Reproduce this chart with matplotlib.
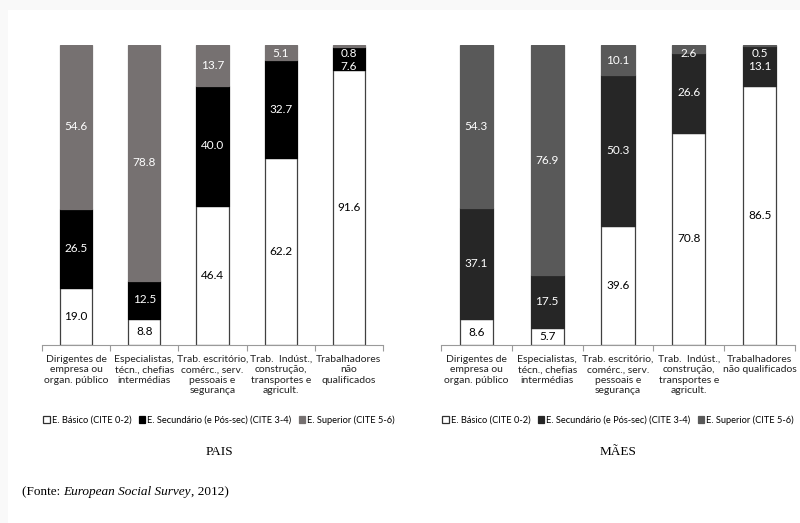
import matplotlib.pyplot as plt
from matplotlib.patches import Rectangle, Patch
import numpy as np

# categories
cats_pais = ['Dirigentes de\nempresa ou\norgan. público',
             'Especialistas,\ntécn., chefias\nintermédias',
             'Trab. escritório,\ncomérc., serv.\npessoais e\nsegurança',
             'Trab.  Indúst.,\nconstrução,\ntransportes e\nagricult.',
             'Trabalhadores\nnão\nqualificados']
cats_maes = cats_pais[:4] + ['Trabalhadores\nnão qualificados']

legend_labels = ['E. Básico (CITE 0-2)', 'E. Secundário (e Pós-sec) (CITE 3-4)', 'E. Superior (CITE 5-6)']

# PAIS
pais_basico = [19.0, 8.8, 46.4, 62.2, 91.6]
pais_secund = [26.5, 12.5, 40.0, 32.7, 7.6]
pais_super = [54.6, 78.8, 13.7, 5.1, 0.8]

# MÃES
maes_basico = [8.6, 5.7, 39.6, 70.8, 86.5]
maes_secund = [37.1, 17.5, 50.3, 26.6, 13.1]
maes_super = [54.3, 76.9, 10.1, 2.6, 0.5]

W, H = 800, 523
fig = plt.figure(figsize=(8, 5.23), dpi=100)
fig.patch.set_facecolor('#f9f9f9')
# page area (faint shadow on top/left)
fig.add_artist(Rectangle((8 / W, 0), 1, 1 - 10 / H, transform=fig.transFigure,
                         facecolor='white', edgecolor='none', zorder=0))

font_lbl = ['Lato', 'DejaVu Sans']


def panel(rect, cats, series, colors, text_colors, title, leg_x):
    ax = fig.add_axes(rect)
    ax.set_facecolor('none')
    x = np.arange(len(cats))
    bottom = np.zeros(len(cats))
    label_pos = []
    for vals, col in zip(series, colors):
        vals = np.array(vals)
        edge = '#404040' if col == 'white' else col
        ax.bar(x, vals, width=0.47, bottom=bottom, color=col, edgecolor=edge, linewidth=0.9, zorder=2)
        label_pos.append(bottom + vals / 2)
        bottom = bottom + vals
    # value labels, pushed down from the top so they don't collide
    for i in range(len(cats)):
        prev = 101.6
        for s in range(len(series) - 1, -1, -1):
            y = min(label_pos[s][i], prev - 4.3)
            prev = y
            ax.text(x[i], y, f'{series[s][i]:.1f}', ha='center', va='center',
                    fontsize=8.5, color=text_colors[s], family=font_lbl, zorder=3)
    ax.set_xlim(-0.5, len(cats) - 0.5)
    ax.set_ylim(0, 100)
    for sp in ['top', 'left', 'right']:
        ax.spines[sp].set_visible(False)
    ax.spines['bottom'].set_color('#9a9a9a')
    ax.spines['bottom'].set_linewidth(0.8)
    ax.set_yticks([])
    ax.set_xticks(np.arange(len(cats) + 1) - 0.5)
    ax.set_xticklabels([])
    ax.tick_params(axis='x', length=4, color='#9a9a9a', width=0.8)
    for i, c in enumerate(cats):
        ax.text(x[i], -3.3, c, ha='center', va='top', fontsize=7.5, family=font_lbl,
                linespacing=1.2, color='#222222')
    handles = [Patch(facecolor=c, edgecolor='#303030' if c == 'white' else c, linewidth=0.9) for c in colors]
    fig.legend(handles, legend_labels, loc='center', bbox_to_anchor=(leg_x, 1 - 420 / H), ncol=3,
               frameon=False, handlelength=0.7, handleheight=0.7,
               handletextpad=0.2, columnspacing=0.8, prop={'family': font_lbl, 'size': 6.7})
    fig.text(leg_x, 1 - 452 / H, title, ha='center', va='center', fontsize=9.5,
             family='Liberation Serif')
    return ax


panel([42 / W, 178 / H, 341 / W, 300 / H], cats_pais,
      [pais_basico, pais_secund, pais_super], ['white', '#000000', '#767171'],
      ['black', 'white', 'white'], 'PAIS', 219 / W)
panel([441 / W, 178 / H, 354 / W, 300 / H], cats_maes,
      [maes_basico, maes_secund, maes_super], ['white', '#262626', '#595959'],
      ['black', 'white', 'white'], 'MÃES', 618 / W)

# source line built from parts so the survey name can be italic
fig.canvas.draw()
r = fig.canvas.get_renderer()
x0 = 22
parts = [('(Fonte: ', 'normal'), ('European Social Survey', 'italic'), (', 2012)', 'normal')]
for s, st in parts:
    tx = fig.text(x0 / W, 1 - 492 / H, s, ha='left', va='center', fontsize=9.5,
                  family='Liberation Serif', style=st)
    x0 += tx.get_window_extent(renderer=r).width

fig.savefig('out.png', dpi=100, facecolor=fig.get_facecolor())
